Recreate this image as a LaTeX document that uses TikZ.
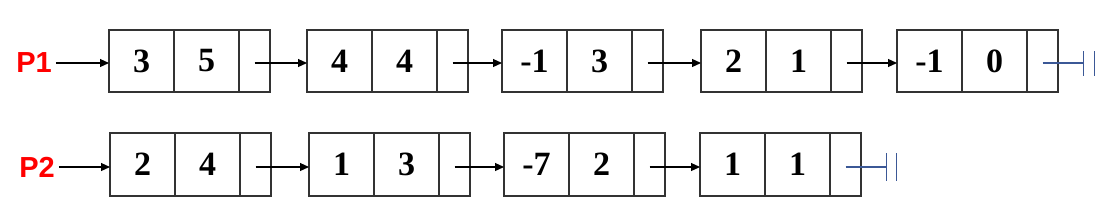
\documentclass[tikz,border=0pt]{standalone}
\usepackage{fontspec}
\setmainfont{Liberation Serif}
\newfontfamily\labelfont{Liberation Sans}
\usetikzlibrary{arrows.meta}
\definecolor{nullblue}{HTML}{3B5896}
\definecolor{boxline}{HTML}{333333}
\begin{document}
\begin{tikzpicture}[x=1pt,y=-1pt,
  cell/.style={draw=boxline,line width=1.3pt,minimum height=62pt,inner sep=0pt,outer sep=0pt,anchor=west,font=\fontsize{34}{34}\selectfont\bfseries},
  datacell/.style={cell,minimum width=65pt},
  ptrcell/.style={cell,minimum width=31pt},
  link/.style={line width=1.2pt,-{Triangle[length=9pt,width=8pt]}},
  nullmark/.style={draw=nullblue,line width=1.3pt},
  plabel/.style={text=red,inner sep=4pt,font=\labelfont\bfseries\fontsize{29}{29}\selectfont}]
\useasboundingbox (0,0) rectangle (1113,210);
% row 1
\foreach \i/\x/\a/\b in {1/109/3/5,2/307/4/4,3/502/-1/3,4/701/2/1,5/897/-1/0} {
  \node[datacell] (r1a\i) at (\x,61) {\a};
  \node[datacell] (r1b\i) at (r1a\i.east) {\b};
  \node[ptrcell] (r1c\i) at (r1b\i.east) {};
}
\foreach \i/\j in {1/2,2/3,3/4,4/5}
  \draw[link] ([yshift=-2pt]r1c\i.center) -- ([yshift=-2pt]r1a\j.west);
\node[plabel] (p1) at (34,63) {P1};
\draw[link] (p1.east) -- (p1.east -| r1a1.west);
\draw[nullmark] ([yshift=-2pt]r1c5.center) -- ++(41,0) coordinate (g1);
\draw[nullmark] ([yshift=12pt]g1) -- ([yshift=-13pt]g1);
\draw[nullmark] ([xshift=11pt,yshift=12pt]g1) -- ([xshift=11pt,yshift=-13pt]g1);
% row 2
\foreach \i/\x/\a/\b in {1/110/2/4,2/309/1/3,3/504/-7/2,4/700/1/1} {
  \node[datacell,minimum height=63pt] (r2a\i) at (\x,164.5) {\a};
  \node[datacell,minimum height=63pt] (r2b\i) at (r2a\i.east) {\b};
  \node[ptrcell,minimum height=63pt] (r2c\i) at (r2b\i.east) {};
}
\foreach \i/\j in {1/2,2/3,3/4}
  \draw[link] ([yshift=-2.5pt]r2c\i.center) -- ([yshift=-2.5pt]r2a\j.west);
\node[plabel] (p2) at (37,167) {P2};
\draw[link] (p2.east) -- (p2.east -| r2a1.west);
\draw[nullmark] ([yshift=-2.5pt]r2c4.center) -- ++(41,0) coordinate (g2);
\draw[nullmark] ([yshift=14pt]g2) -- ([yshift=-14pt]g2);
\draw[nullmark] ([xshift=10pt,yshift=14pt]g2) -- ([xshift=10pt,yshift=-14pt]g2);
\end{tikzpicture}
\end{document}
